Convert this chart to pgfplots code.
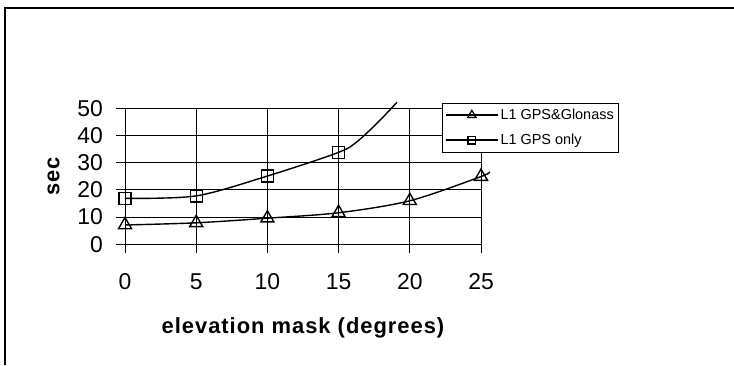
\documentclass[border=0pt]{standalone}
\usepackage{pgfplots}
\pgfplotsset{compat=1.18}
\usepackage{fontspec}
\setmainfont{Liberation Sans}
\newfontfamily\labfont[LetterSpace=4.5]{Liberation Sans}
\begin{document}
\begin{tikzpicture}[x=1bp,y=1bp]
\useasboundingbox (0,0) rectangle (734,365);
\draw[line width=1.5bp] (5,0) -- (5,357) -- (734,357);
\begin{axis}[
  at={(125bp,120.7bp)}, anchor=south west,
  scale only axis, width=356bp, height=136bp,
  xmin=0, xmax=25, ymin=0, ymax=50,
  xtick={0,5,10,15,20,25}, ytick={0,10,20,30,40,50},
  axis x line*=bottom, axis y line*=left,
  axis line style={line width=0.9bp},
  grid=major, major grid style={black, line width=0.9bp},
  tick align=outside, major tick length=8.5bp,
  tick style={black, line width=0.9bp},
  /pgf/number format/assume math mode=true,
  tick label style={font=\fontsize{23}{23}\selectfont},
  yticklabel style={xshift=-10bp},
  xticklabel style={anchor=center, yshift=-28.5bp},
  xlabel={elevation mask (degrees)},
  ylabel={sec},
  label style={font=\fontsize{22}{22}\selectfont\labfont\bfseries},
  xlabel style={at={(axis description cs:0.5,-0.615)}, anchor=center},
  ylabel style={at={(axis description cs:-0.2008,0.5)}, anchor=center},
  clip=false,
  legend style={at={(0.8896,1.041)}, anchor=north west, draw=black, line width=0.9bp,
    font=\fontsize{14.5}{14.5}\selectfont, cells={anchor=west}, inner xsep=3bp, inner ysep=4bp,
    row sep=9bp},
  legend image code/.code={%
    \draw[line width=1.4bp, mark indices={2}, mark options={scale=0.65, line width=1.2bp}]
      plot coordinates {(0bp,0bp) (26bp,0bp) (52bp,0bp)};},
]
\addplot[black, line width=1.4bp, smooth, mark=triangle, mark size=7.5bp,
  mark options={fill=white, line width=1.4bp}, mark indices={1,2,3,4,5,6}]
  coordinates {(0,7.1) (5,7.9) (10,9.6) (15,11.6) (20,16.0) (25,24.9) (25.6,26.7)};
\addlegendentry{L1 GPS\&Glonass}
\addplot[black, line width=1.4bp, smooth, mark=square, mark size=6bp,
  mark options={fill=white, line width=1.4bp}, mark indices={1,2,3,4}]
  coordinates {(0,16.9) (5,17.8) (10,25.1) (15,33.8) (16.4,38.2) (17.9,45.6) (19.1,52.2)};
\addlegendentry{L1 GPS only}
\end{axis}
\end{tikzpicture}
\end{document}
